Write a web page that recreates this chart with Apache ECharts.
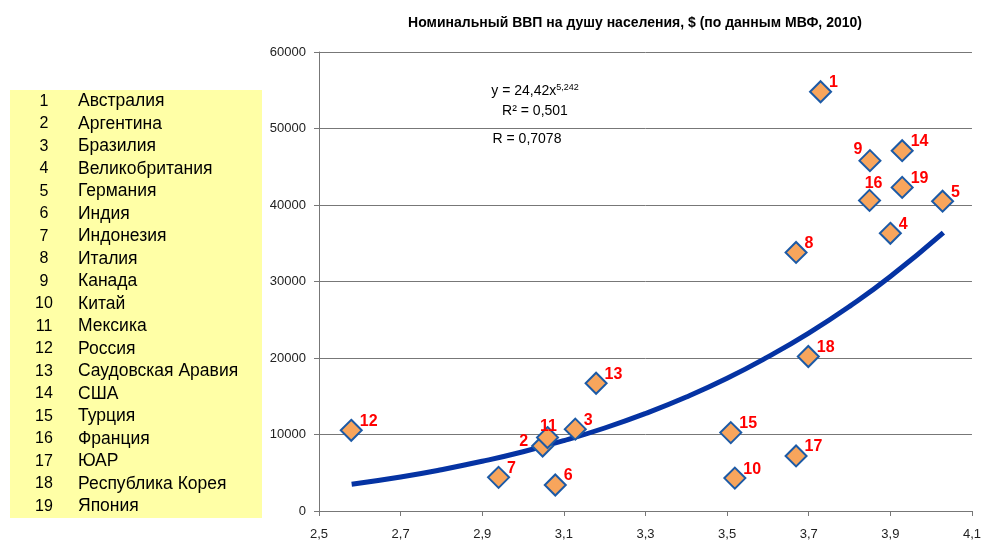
<!DOCTYPE html>
<html><head><meta charset="utf-8">
<script src="https://cdn.jsdelivr.net/npm/echarts@6/dist/echarts.min.js"></script>
<style>html,body{margin:0;padding:0;background:#fff}#c{width:984px;height:544px}</style>
</head><body><div id="c"></div>
<script>
// Countries (legend list)
const countries = ['Австралия','Аргентина','Бразилия','Великобритания','Германия','Индия','Индонезия','Италия','Канада','Китай','Мексика','Россия','Саудовская Аравия','США','Турция','Франция','ЮАР','Республика Корея','Япония'];
// x values per country (1..19)
const xVals = [3.729, 3.048, 3.128, 3.900, 4.028, 3.079, 2.940, 3.669, 3.850, 3.519, 3.060, 2.579, 3.179, 3.929, 3.509, 3.849, 3.669, 3.699, 3.929];
// GDP per capita, $
const yVals = [54800, 8500, 10700, 36300, 40500, 3400, 4400, 33800, 45800, 4300, 9600, 10550, 16700, 47100, 10250, 40600, 7200, 20200, 42300];
// trend line points
const trendX = [2.58, 2.7, 2.8, 2.9, 3.0, 3.1, 3.2, 3.3, 3.4, 3.5, 3.6, 3.7, 3.8, 3.9, 4.03];
const trendY = [3500, 4450, 5400, 6500, 7750, 9200, 10850, 12750, 14900, 17350, 20150, 23250, 26750, 30650, 36400];
const xTicks = {min: 2.5, max: 4.1, interval: 0.2};
const yTicks = {min: 0, max: 60000, interval: 10000};

const labelPos = {
  2: {position: 'left', distance: 3, offset: [0, -4]},
  9: {position: 'left', distance: -4, offset: [0, -11]},
  11: {position: 'top', distance: 0, offset: [1, 9]},
  16: {position: 'top', distance: 0, offset: [4, 3]}
};
const scatterData = xVals.map((x, i) => {
  const n = i + 1;
  const lp = labelPos[n] || {position: 'right', distance: 0, offset: [-3, -9]};
  return {value: [x, yVals[i]], name: String(n), label: lp};
});

const FONT = '"Liberation Sans", Arial, sans-serif';
const graphics = [{type: 'rect', shape: {x: 10, y: 90, width: 252, height: 428}, style: {fill: '#FFFFA6'}, z: 0}];
countries.forEach((c, i) => {
  const y = 101.5 + i * 22.5;
  graphics.push({type: 'text', x: 44, y: y, style: {text: String(i + 1), fill: '#000', font: '16px ' + FONT, textAlign: 'center', textVerticalAlign: 'middle'}});
  graphics.push({type: 'text', x: 78, y: y, style: {text: c, fill: '#000', font: '17.5px ' + FONT, textAlign: 'left', textVerticalAlign: 'middle'}});
});
graphics.push({type: 'text', x: 535, y: 91, style: {text: '{a|y = 24,42x}{s|5,242}', rich: {a: {font: '14px ' + FONT, fill: '#000'}, s: {font: '9px ' + FONT, fill: '#000', verticalAlign: 'top', padding: [0,0,7,0]}}, textAlign: 'center', textVerticalAlign: 'middle'}});
graphics.push({type: 'text', x: 535, y: 111, style: {text: 'R² = 0,501', font: '14px ' + FONT, fill: '#000', textAlign: 'center', textVerticalAlign: 'middle'}});
graphics.push({type: 'text', x: 527, y: 139, style: {text: 'R = 0,7078', font: '14px ' + FONT, fill: '#000', textAlign: 'center', textVerticalAlign: 'middle'}});

const chart = echarts.init(document.getElementById('c'), null, {renderer: 'canvas'});
chart.setOption({
  animation: false,
  title: {text: 'Номинальный ВВП на душу населения, $ (по данным МВФ, 2010)', left: 630, top: 11, textAlign: 'center',
    textStyle: {fontFamily: FONT, fontSize: 14, fontWeight: 'bold', color: '#000'}},
  grid: {left: 319, right: 11, top: 52, bottom: 33},
  xAxis: {type: 'value', min: xTicks.min, max: xTicks.max, interval: xTicks.interval,
    axisLine: {lineStyle: {color: '#777', width: 1}}, axisTick: {show: true, length: 5, lineStyle: {color: '#777'}},
    splitLine: {show: false},
    axisLabel: {color: '#222', fontSize: 13, fontFamily: FONT, margin: 17,
      formatter: v => v.toFixed(1).replace('.', ',')}},
  yAxis: {type: 'value', min: yTicks.min, max: yTicks.max, interval: yTicks.interval,
    axisLine: {show: true, lineStyle: {color: '#777', width: 1}}, axisTick: {show: true, length: 5, lineStyle: {color: '#777'}},
    splitLine: {show: true, lineStyle: {color: '#777', width: 1}},
    axisLabel: {color: '#222', fontSize: 13, fontFamily: FONT, margin: 13, formatter: v => String(v)}},
  graphic: graphics,
  series: [
    {type: 'line', data: trendX.map((x, i) => [x, trendY[i]]), smooth: true, showSymbol: false,
      lineStyle: {color: '#0533A3', width: 5}, z: 2},
    {type: 'scatter', data: scatterData, symbol: 'diamond', symbolSize: [21, 21],
      itemStyle: {color: '#F8A55C', borderColor: '#1C5AA6', borderWidth: 2, opacity: 1}, z: 3,
      label: {show: true, formatter: p => p.name, color: '#FF0000', fontWeight: 'bold', fontSize: 16, fontFamily: FONT}}
  ]
});
</script></body></html>
